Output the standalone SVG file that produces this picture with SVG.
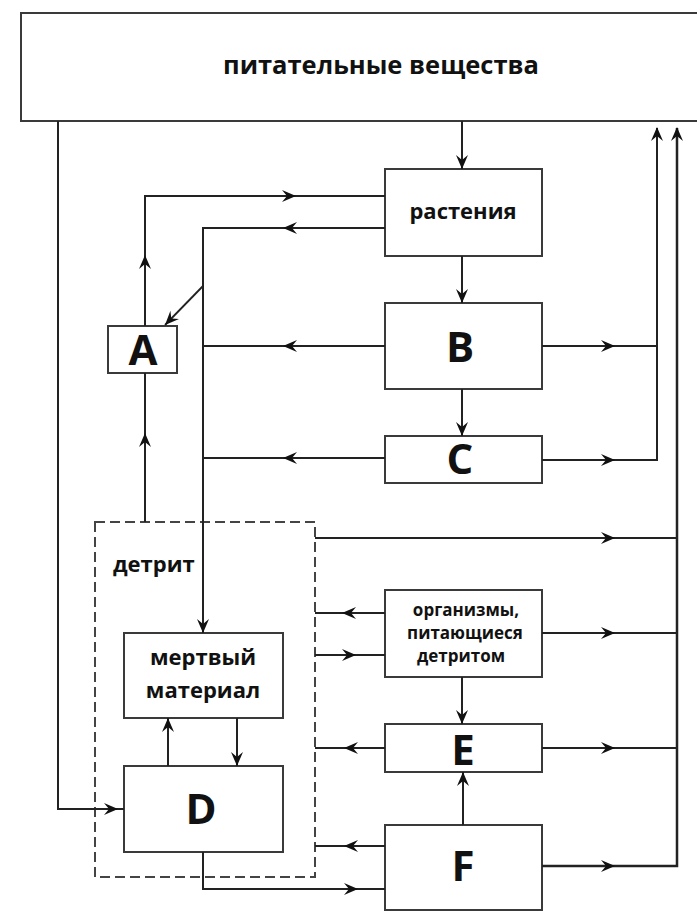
<svg xmlns="http://www.w3.org/2000/svg" xmlns:xlink="http://www.w3.org/1999/xlink" width="697" height="912" viewBox="0 0 697 912">
<style>
.box{fill:#fff;stroke:#3a3a3a;stroke-width:2}
.dash{fill:none;stroke:#444;stroke-width:2;stroke-dasharray:10 5}
.ln{fill:none;stroke:#222;stroke-width:2}
.t{font-family:"Open Sans","DejaVu Sans",sans-serif;font-weight:bold;fill:#111;text-anchor:middle}
.m{font-size:22px}
.s{font-size:17px}
.big{font-size:42px}
</style>
<defs>
<path id="ah" d="M0,0 L-14,-6 L-9,0 L-14,6 Z" fill="#111"/>
</defs>
<rect x="0" y="0" width="697" height="912" fill="#fff"/>

<g id="nutrients"><rect class="box" x="21" y="13" width="690" height="108"/><text class="t" x="381" y="74" style="font-size:25.5px">питательные вещества</text></g>
<g id="plants"><rect class="box" x="385" y="169" width="157" height="87"/><text class="t m" x="463" y="219">растения</text></g>
<g id="B"><rect class="box" x="385" y="303" width="157" height="86"/><text class="t big" x="460" y="362">B</text></g>
<g id="C"><rect class="box" x="385" y="436" width="157" height="47"/><text class="t big" x="460" y="474">C</text></g>
<g id="A"><rect class="box" x="108" y="326" width="69" height="47"/><text class="t big" x="143" y="365">A</text></g>
<g id="detritus"><rect class="dash" x="95" y="522" width="220" height="355"/><text class="t m" x="113" y="572" style="text-anchor:start">детрит</text></g>
<g id="dead"><rect class="box" x="124" y="633" width="159" height="85"/><text class="t m" x="203" y="665">мертвый</text><text class="t m" x="203" y="698">материал</text></g>
<g id="D"><rect class="box" x="124" y="766" width="159" height="86"/><text class="t big" x="201" y="824">D</text></g>
<g id="detritivores"><rect class="box" x="385" y="590" width="157" height="87"/><text class="t s" x="466" y="616">организмы,</text><text class="t s" x="465" y="639">питающиеся</text><text class="t s" x="461" y="662">детритом</text></g>
<g id="E"><rect class="box" x="385" y="724" width="157" height="48"/><text class="t big" x="463" y="765">E</text></g>
<g id="F"><rect class="box" x="385" y="825" width="157" height="85"/><text class="t big" x="463" y="881">F</text></g>

<g id="connectors">
<path class="ln" d="M462,121 V169"/><use xlink:href="#ah" transform="translate(462,169) rotate(90)"/>
<path class="ln" d="M462,256 V303"/><use xlink:href="#ah" transform="translate(462,303) rotate(90)"/>
<path class="ln" d="M462,389 V436"/><use xlink:href="#ah" transform="translate(462,436) rotate(90)"/>
<path class="ln" d="M145,326 V196 H385"/><use xlink:href="#ah" transform="translate(145,255) rotate(-90)"/><use xlink:href="#ah" transform="translate(296,196)"/>
<path class="ln" d="M385,228 H203 V633"/><use xlink:href="#ah" transform="translate(283,228) rotate(180)"/><use xlink:href="#ah" transform="translate(203,633) rotate(90)"/>
<path class="ln" d="M203,286 L165,325" style="stroke-width:1.8"/><use xlink:href="#ah" transform="translate(165,325) rotate(134)"/>
<path class="ln" d="M385,346 H203"/><use xlink:href="#ah" transform="translate(283,346) rotate(180)"/>
<path class="ln" d="M385,458 H203"/><use xlink:href="#ah" transform="translate(283,458) rotate(180)"/>
<path class="ln" d="M145,373 V522"/><use xlink:href="#ah" transform="translate(145,433) rotate(-90)"/>
<path class="ln" d="M542,346 H657"/><use xlink:href="#ah" transform="translate(615,346)"/>
<path class="ln" d="M542,460 H657 V128"/><use xlink:href="#ah" transform="translate(615,460)"/><use xlink:href="#ah" transform="translate(657,127) rotate(-90)"/>
<path class="ln" d="M542,866 H677 V128" style="stroke-width:2.5"/><use xlink:href="#ah" transform="translate(615,866)"/><use xlink:href="#ah" transform="translate(677,127) rotate(-90)"/>
<path class="ln" d="M315,538 H677"/><use xlink:href="#ah" transform="translate(615,538)"/>
<path class="ln" d="M385,613 H315"/><use xlink:href="#ah" transform="translate(342,613) rotate(180)"/>
<path class="ln" d="M315,655 H385"/><use xlink:href="#ah" transform="translate(356,655)"/>
<path class="ln" d="M542,633 H677"/><use xlink:href="#ah" transform="translate(615,633)"/>
<path class="ln" d="M462,677 V724"/><use xlink:href="#ah" transform="translate(462,724) rotate(90)"/>
<path class="ln" d="M385,748 H315"/><use xlink:href="#ah" transform="translate(344,748) rotate(180)"/>
<path class="ln" d="M542,748 H677"/><use xlink:href="#ah" transform="translate(615,748)"/>
<path class="ln" d="M463,825 V772"/><use xlink:href="#ah" transform="translate(463,772) rotate(-90)"/>
<path class="ln" d="M385,846 H315"/><use xlink:href="#ah" transform="translate(344,846) rotate(180)"/>
<path class="ln" d="M203,852 V889 H385"/><use xlink:href="#ah" transform="translate(358,889)"/>
<path class="ln" d="M58,121 V809 H124"/><use xlink:href="#ah" transform="translate(118,809)"/>
<path class="ln" d="M168,766 V718"/><use xlink:href="#ah" transform="translate(168,718) rotate(-90)"/>
<path class="ln" d="M237,718 V766"/><use xlink:href="#ah" transform="translate(237,766) rotate(90)"/>
</g>
</svg>
